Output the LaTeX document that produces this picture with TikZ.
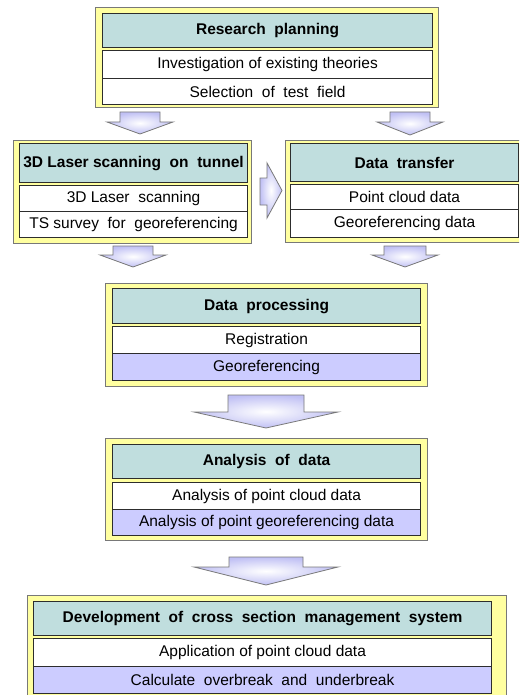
\documentclass[tikz,border=0pt]{standalone}
\usepackage{fontspec}
\setmainfont{Liberation Sans}
\usetikzlibrary{positioning}
\definecolor{panelyellow}{RGB}{255,255,160}
\definecolor{headteal}{RGB}{192,222,222}
\definecolor{rowlilac}{RGB}{204,204,255}
\definecolor{arrowlilac}{RGB}{192,192,244}
\definecolor{framegray}{RGB}{120,120,120}
\definecolor{boxline}{RGB}{45,45,45}
\tikzset{
  panel/.style={draw=framegray, line width=0.9pt, fill=panelyellow},
  cell/.style={draw=boxline, line width=1.1pt, anchor=north west, inner sep=0pt,
    font=\fontsize{15.5}{17}\selectfont, text=black},
  headcell/.style={cell, fill=headteal, font=\fontsize{15.5}{17}\selectfont\bfseries},
  whitecell/.style={cell, fill=white},
  lilaccell/.style={cell, fill=rowlilac},
  blockarrow/.style={draw=framegray, line width=0.8pt, line join=miter,
    shading=radial, inner color=white, outer color=arrowlilac},
}
% box of given corners: name, x1, y1, x2, y2, style, text
\newcommand{\cellbox}[7]{%
  \node[#6, minimum width={(#4-#2)*1pt}, minimum height={(#5-#3)*1pt}] (#1) at (#2,#3) {#7};}
% down-pointing block arrow: x-centre, shaft half width, head half width, top, head base, tip
\newcommand{\stagearrow}[6]{%
  \draw[blockarrow] ({#1-#2},#4) -- ({#1+#2},#4) -- ({#1+#2},#5) -- ({#1+#3},#5)
    -- (#1,#6) -- ({#1-#3},#5) -- ({#1-#2},#5) -- cycle;}
\begin{document}
\begin{tikzpicture}[x=1pt, y=-1pt]
\clip (0,0) rectangle (519,695);
\fill[white] (0,0) rectangle (519,695);

% Research planning
\draw[panel] (95,7) rectangle (438,107);
\cellbox{rp}{102}{13}{432}{47}{headcell}{Research\ \ planning}
\cellbox{rp1}{102}{50}{432}{78}{whitecell}{Investigation of existing theories}
\cellbox{rp2}{102}{78}{432}{104}{whitecell}{Selection\ \ of\ \ test\ \ field}

% 3D laser scanning on tunnel
\draw[panel] (13,140) rectangle (251,243);
\cellbox{ls}{19}{143}{247}{182}{headcell}{3D Laser scanning\ \ on\ \ tunnel}
\cellbox{ls1}{19}{185}{247}{211}{whitecell}{3D Laser\ \ scanning}
\cellbox{ls2}{19}{211}{247}{237}{whitecell}{TS survey\ \ for\ \ georeferencing}

% Data transfer
\draw[panel] (285,140) rectangle (523,242);
\cellbox{dt}{290}{143}{518}{181}{headcell}{Data\ \ transfer}
\cellbox{dt1}{290}{184}{518}{209}{whitecell}{Point cloud data}
\cellbox{dt2}{290}{209}{518}{237}{whitecell}{Georeferencing data}

% Data processing
\draw[panel] (105,283) rectangle (427,386);
\cellbox{dp}{112}{288}{420}{323}{headcell}{Data\ \ processing}
\cellbox{dp1}{112}{326}{420}{353}{whitecell}{Registration}
\cellbox{dp2}{112}{353}{420}{380}{lilaccell}{Georeferencing}

% Analysis of data
\draw[panel] (105,438) rectangle (427,540);
\cellbox{ad}{112}{444}{420}{478}{headcell}{Analysis\ \ of\ \ data}
\cellbox{ad1}{112}{482}{420}{509}{whitecell}{Analysis of point cloud data}
\cellbox{ad2}{112}{509}{420}{535}{lilaccell}{Analysis of point georeferencing data}

% Development of cross section management system
\draw[panel] (27,595) rectangle (506,702);
\cellbox{cs}{33}{601}{491}{635}{headcell}{Development\ \ of\ \ cross\ \ section\ \ management\ \ system}
\cellbox{cs1}{33}{638}{491}{666}{whitecell}{Application of point cloud data}
\cellbox{cs2}{33}{666}{491}{693}{lilaccell}{Calculate\ \ overbreak\ \ and\ \ underbreak}

% Block arrows between the stages
\stagearrow{140}{20}{33}{112}{122}{134}
\stagearrow{410}{20}{33}{112}{122}{135}
\draw[blockarrow] (260,178) -- (267,178) -- (267,163) -- (282,190.5)
  -- (267,218) -- (267,205) -- (260,205) -- cycle;
\stagearrow{133}{20}{33}{246}{255}{267}
\stagearrow{405}{21}{33}{246}{255}{267}
\stagearrow{266}{38}{72}{395}{412}{428}
\stagearrow{266}{37}{72}{557}{567}{585}
\end{tikzpicture}
\end{document}
